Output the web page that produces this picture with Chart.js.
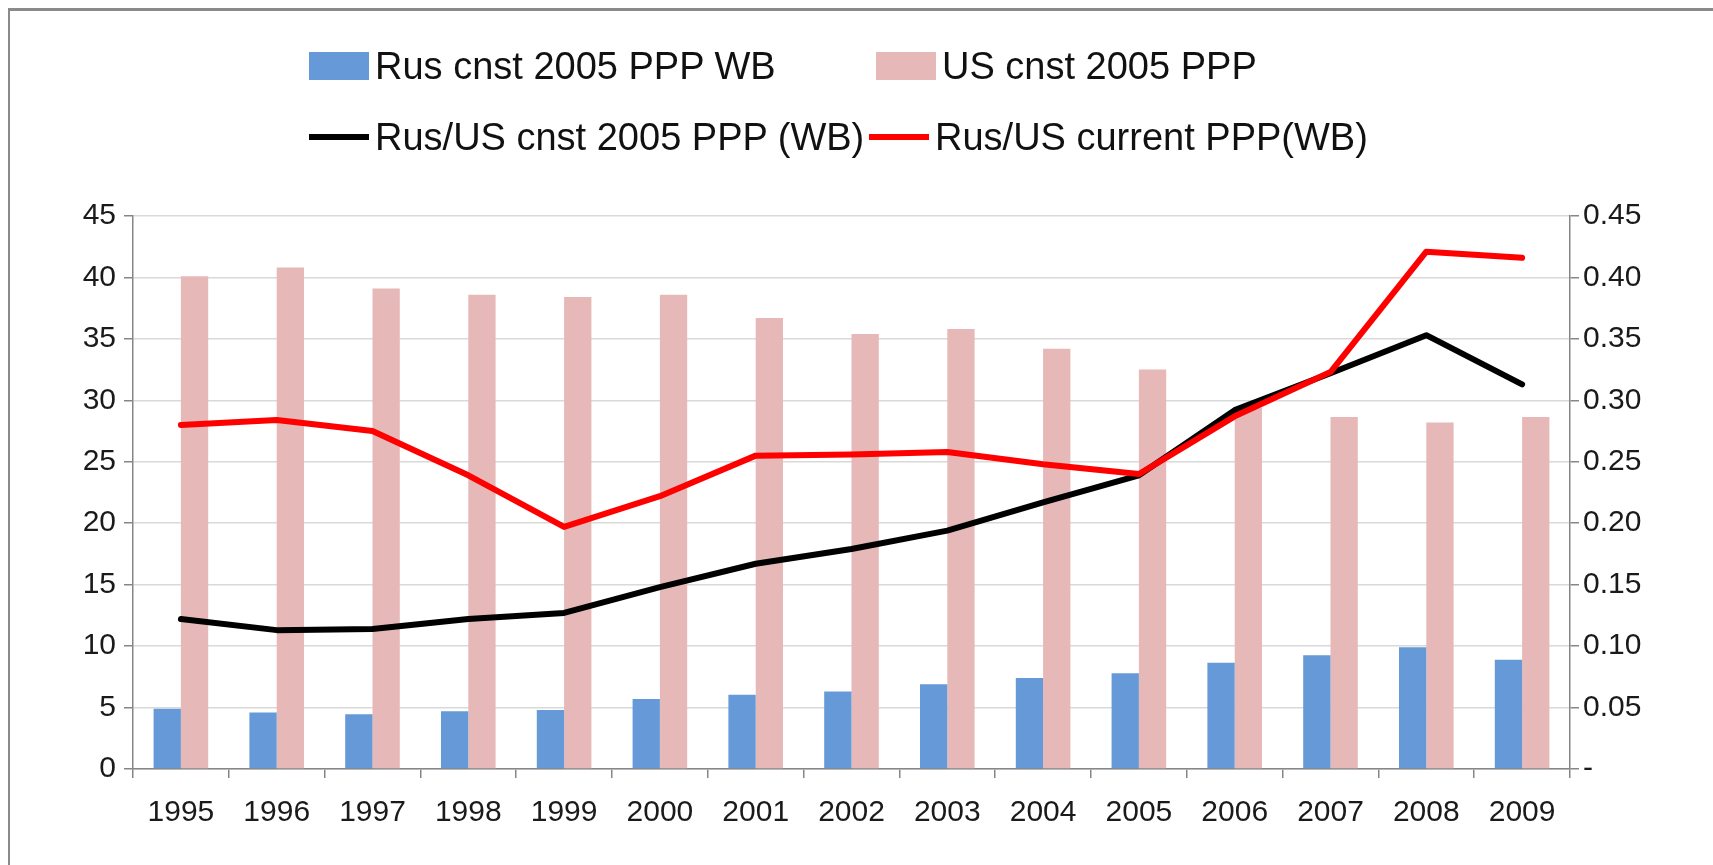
<!DOCTYPE html>
<html>
<head>
<meta charset="utf-8">
<script src="https://cdn.jsdelivr.net/npm/chart.js@4.4.1/dist/chart.umd.min.js"></script>
<style>
  body { margin: 0; background: #fff; font-family: 'Liberation Sans', Arial, sans-serif; }
  #wrap { position: relative; width: 1713px; height: 865px; overflow: hidden; }
  #frame { position: absolute; left: 8px; top: 8px; width: 1800px; height: 900px;
           border-left: 2px solid #8a8a8a; border-top: 3px solid #8a8a8a; }
  #chartBox { position: absolute; left: 0; top: 0; width: 1713px; height: 865px; }
  .lg { position: absolute; font-size: 38px; color: #111; line-height: 1; white-space: nowrap; }
  .sw { position: absolute; }
</style>
</head>
<body>
<div id="wrap">
  <div id="frame"></div>
  <div id="chartBox"><canvas id="myChart" width="1713" height="865"></canvas></div>
  <div id="legend"></div>
</div>
<script>
// data
const years = ['1995', '1996', '1997', '1998', '1999', '2000', '2001', '2002', '2003', '2004', '2005', '2006', '2007', '2008', '2009'];
const rusCnst = [4.9, 4.6, 4.45, 4.7, 4.8, 5.7, 6.05, 6.3, 6.9, 7.4, 7.8, 8.65, 9.25, 9.9, 8.9];
const usCnst = [40.1, 40.8, 39.1, 38.6, 38.4, 38.6, 36.7, 35.4, 35.8, 34.2, 32.5, 29.4, 28.65, 28.2, 28.65];
const ratioCnst = [0.122, 0.113, 0.114, 0.122, 0.127, 0.148, 0.167, 0.179, 0.194, 0.217, 0.239, 0.292, 0.322, 0.353, 0.313];
const ratioCurrent = [0.280, 0.284, 0.275, 0.239, 0.197, 0.222, 0.255, 0.256, 0.258, 0.248, 0.240, 0.287, 0.323, 0.421, 0.416];
const seriesNames = ['Rus cnst 2005 PPP WB', 'US cnst 2005 PPP', 'Rus/US cnst 2005 PPP (WB)', 'Rus/US current PPP(WB)'];

const blue = '#6699D8';
const pink = '#E6B9B8';
const axisGray = '#868686';
const gridGray = '#D9D9D9';
const tickFont = { family: "'Liberation Sans', Arial, sans-serif", size: 30 };

const ctx = document.getElementById('myChart').getContext('2d');
const myChart = new Chart(ctx, {
    type: 'bar',
    data: {
        labels: years,
        datasets: [
            { type: 'line', label: seriesNames[3], data: ratioCurrent, yAxisID: 'y1', borderColor: '#FF0000', borderWidth: 6, pointRadius: 0, borderJoinStyle: 'round', borderCapStyle: 'round', order: 0 },
            { type: 'line', label: seriesNames[2], data: ratioCnst, yAxisID: 'y1', borderColor: '#000000', borderWidth: 6, pointRadius: 0, borderJoinStyle: 'round', borderCapStyle: 'round', order: 1 },
            { label: seriesNames[0], data: rusCnst, yAxisID: 'y', backgroundColor: blue, order: 2 },
            { label: seriesNames[1], data: usCnst, yAxisID: 'y', backgroundColor: pink, order: 3 }
        ]
    },
    options: {
        responsive: false,
        animation: false,
        datasets: { bar: { barPercentage: 1, categoryPercentage: 0.57 } },
        layout: { padding: { left: 60, right: 63, top: 216, bottom: 40 } },
        plugins: { legend: { display: false }, tooltip: { enabled: false } },
        scales: {
            x: {
                grid: { offset: true, drawOnChartArea: false, color: axisGray, lineWidth: 1.5, tickLength: 9 },
                border: { color: axisGray, width: 1.5 },
                ticks: { font: tickFont, color: '#1a1a1a', padding: 17, maxRotation: 0, autoSkip: false },
                afterFit: function (scale) { scale.height = 56; }
            },
            y: {
                position: 'left',
                min: 0, max: 45,
                grid: { color: gridGray, lineWidth: 1.5, tickColor: axisGray, tickLength: 9 },
                border: { color: axisGray, width: 1.5 },
                ticks: { stepSize: 5, font: tickFont, color: '#1a1a1a', padding: 8 },
                afterFit: function (scale) { scale.width = 73; }
            },
            y1: {
                position: 'right',
                min: 0, max: 0.45,
                grid: { drawOnChartArea: false, color: axisGray, lineWidth: 1.5, tickLength: 9 },
                border: { color: axisGray, width: 1.5 },
                ticks: {
                    stepSize: 0.05, font: tickFont, color: '#1a1a1a', padding: 4,
                    callback: function (value) { return value === 0 ? '-' : value.toFixed(2); }
                },
                afterFit: function (scale) { scale.width = 80; }
            }
        }
    }
});

// legend in two rows like the original
const legendItems = [
    { name: seriesNames[0], kind: 'box', color: blue, x: 309, y: 66 },
    { name: seriesNames[1], kind: 'box', color: pink, x: 876, y: 66 },
    { name: seriesNames[2], kind: 'line', color: '#000', x: 309, y: 137 },
    { name: seriesNames[3], kind: 'line', color: '#FF0000', x: 869, y: 137 }
];
const legendDiv = document.getElementById('legend');
legendItems.forEach(item => {
    const sw = document.createElement('div');
    sw.className = 'sw';
    sw.style.left = item.x + 'px';
    sw.style.width = '60px';
    sw.style.background = item.color;
    if (item.kind === 'box') {
        sw.style.top = (item.y - 14) + 'px';
        sw.style.height = '28px';
    } else {
        sw.style.top = (item.y - 3) + 'px';
        sw.style.height = '6px';
    }
    legendDiv.appendChild(sw);
    const t = document.createElement('div');
    t.className = 'lg';
    t.textContent = item.name;
    t.style.left = (item.x + 66) + 'px';
    t.style.top = (item.y - 19) + 'px';
    legendDiv.appendChild(t);
});
</script>
</body>
</html>
